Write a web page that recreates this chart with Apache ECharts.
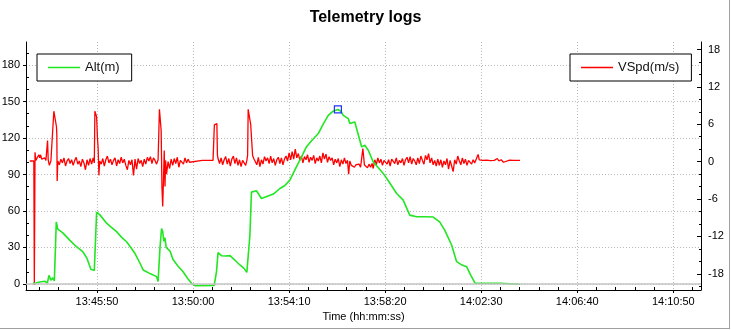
<!DOCTYPE html>
<html><head><meta charset="utf-8">
<script src="https://cdn.jsdelivr.net/npm/echarts@6/dist/echarts.min.js"></script>
<style>html,body{margin:0;padding:0;background:#fff}#c{width:731px;height:330px}</style>
</head><body><div id="c"></div>
<script>
// log clock origin 13:42:44 (seconds since midnight); times below are seconds after it
const T0 = 13 * 3600 + 42 * 60 + 44;

const altTime = [19,27,37,50,57,61,66,71,75,78,80,84,97,115,131,149,160,170,179,185,193,211,222,237,251,263,274,285,298,306,324,341,345,350,354,357,360,363,366,376,384,396,410,422,432,441,491,497,501,510,521,532,540,550,558,568,576,584,588,601,614,628,645,662,675,688,705,719,731,745,762,774,788,800,813,821,827,840,844,849,857,865,875,883,892,905,917,931,948,966,983,1000,1018,1039,1061,1078,1091,1109,1122,1136,1148,1159,1170,1235,1287];
const altValue = [0.5,0.8,1.6,2.2,0.8,7,3,5,2.5,4,51,45,42,36,31,26.5,21,12,11,59,57,50,47,43,38,34.7,30,25,17,11.5,8.5,6,2,30,45.5,43,35,38,30,27,20,15,10,4.5,0.5,-1.4,-1.2,10,25.7,23.2,23,23.3,21,18,15.6,13,9.5,40,75.5,76.6,70.3,72,73.9,78.5,81,85.4,96.3,105,112.7,118,123.7,131,138.7,142,143.5,142,138.7,136,131.9,133,133.2,124,112.7,114.1,110,100.4,96,90.9,83,74.4,68.9,56.6,55.2,55.3,55,51.1,44.3,32,18.3,15.5,14.2,7,0.6,0.5,-0.3];

const vspdTime = [
 11,21.6,22.9,24.7,26.8,31,34.6,37,39,42,46,50,53,56,57.3,59,62,66,70,73.7,78.9,80.5,81.5,82.3,84,
 88,92,96,100,104,108,112,116,120,124,128,132,136,140,144,148,152,156,160,164,168,172,176,
 179,180.5,183,185,187,189,191,193,
 197,201,205,209,213,217,221,225,229,233,237,241,245,249,253,257,261,265,269,273,277,281,285,289,293,297,301,305,309,313,317,321,325,329,333,337,341,345,
 347,348.5,351,353,355,357,359,361,363,364.5,367,371,375,
 379,383,387,391,395,399,403,407,411,415,419,423,427,431,
 460,488,
 490,491.5,493,498,499.5,501,
 505,509,513,517,521,525,529,533,537,541,545,549,553,557,561,565,569,573,576,
 578,579.5,583,586,589,591,594,
 598,602,606,610,614,618,622,626,630,634,638,642,646,650,654,658,662,666,670,674,678,682,686,690,694,698,702,706,710,714,718,722,726,730,734,738,742,746,750,754,758,762,766,770,774,778,782,786,790,794,798,802,806,810,814,818,822,826,830,834,838,
 841,844,848,852,856,860,864,868,872,876,878,880,882,886,890,894,898,902,905,
 909,913,917,921,925,929,933,937,941,945,949,953,957,961,965,969,973,977,981,985,989,993,997,1001,1005,1009,1013,1017,1021,1025,1029,1033,1037,1041,1045,1049,1053,1057,1061,1065,1069,1073,1077,1081,1085,1089,1093,1097,1101,1105,1109,1113,1117,1121,1125,1129,1133,1137,1141,1145,1149,1153,1157,1161,1165,1169,1173,
 1178,1181,1190,1200,1210,1215,1220,1228,1232,1238,1244,1248,1260,1270,1287
];
const vspdValue = [
 0.1,0.1,-19.8,1.5,0.2,0.1,1.1,0.6,1.1,0.4,0.3,0.6,0.2,0.5,3.4,0.3,-0.6,0.1,0.4,8.1,8.1,5.6,4.2,-3.1,0.1,
 -0.5,0.4,-0.2,0.6,-0.7,0.1,0.5,-0.3,0.3,-0.6,0.2,0.7,-0.4,0.1,-0.8,0.4,-0.2,-1.3,0.3,-0.6,0.5,-0.4,0.6,
 -0.2,8.1,8.1,7.2,4.0,2.1,-2.2,0.1,
 -0.4,0.5,-0.7,0.3,0.9,-0.2,0.4,-0.5,0.2,0.6,-0.7,0.3,-0.3,0.7,-0.2,0.4,-0.6,-1.3,0.2,-0.5,0.3,-2.2,0.4,-1.2,0.5,-0.3,0.2,-0.8,0.4,-0.4,0.7,0.1,0.8,-0.3,0.6,0.2,-0.4,0.3,
 0.3,8.4,8.3,5.0,-4.0,-7.2,-3.0,1.8,-4.0,0.2,-2.0,0.0,-1.1,
 0.4,-0.6,0.5,-0.3,0.7,-0.9,0.2,0.5,-0.4,0.6,-0.2,0.4,-0.1,0.2,
 0.2,0.2,
 0.3,5.9,6.0,6.1,1.0,0.5,
 -0.3,0.6,-0.5,0.3,0.8,-0.4,0.5,-0.7,0.4,0.9,-0.3,0.6,-0.6,0.3,-0.8,0.2,0.5,-0.6,0.2,
 1.0,8.4,8.2,6.0,3.0,1.0,0.5,
 0.4,-0.5,0.7,-0.8,0.3,-0.4,0.8,0.1,0.6,-0.3,0.9,-0.2,0.5,-0.6,0.3,0.7,-0.3,0.6,-0.5,0.4,0.9,0.1,1.4,0.3,1.6,0.4,2.0,0.6,1.3,0.2,0.9,-0.2,0.8,0.3,1.1,-0.1,0.7,0.2,1.0,-0.3,0.6,0.1,0.9,-0.2,1.4,0.4,1.2,-0.1,0.8,0.2,0.6,-0.5,0.4,-0.2,0.5,-0.8,0.3,-0.4,0.6,-0.3,0.2,
 -2.0,0.1,-0.6,-0.3,-0.9,-0.5,-0.8,-0.4,-0.9,-0.6,2.1,1.8,-0.5,-0.2,-1.0,-0.4,-0.9,-0.3,-1.1,
 0.3,-0.5,0.6,-0.2,0.4,-0.6,0.2,0.5,-0.4,0.3,-0.7,0.4,0.1,-0.3,0.6,-0.5,0.2,-0.2,0.5,-0.6,0.3,0.7,-0.2,0.8,-0.4,0.5,0.1,-0.5,0.6,-0.3,0.9,0.2,-0.4,1.0,0.3,1.3,-0.2,0.6,-0.5,0.2,-0.7,0.4,-0.6,0.3,-0.9,0.1,-0.5,0.5,-1.2,0.2,-0.7,-1.6,0.3,-0.4,0.9,0.1,-0.5,0.6,-0.3,0.4,-0.6,0.2,0.5,-0.4,0.3,-0.2,0.1,
 1.15,0.3,0.2,0.25,0.15,0.4,0.2,0.5,0.1,0.3,-0.1,0.2,0.25,0.2,0.2
];

const timeTicks = ['13:45:50','13:50:00','13:54:10','13:58:20','14:02:30','14:06:40','14:10:50'];
const altTicks = [0, 30, 60, 90, 120, 150, 180];
const altMinorTicks = [10, 20, 40, 50, 70, 80, 100, 110, 130, 140, 160, 170, 190];
const vspdTicks = [-18, -12, -6, 0, 6, 12, 18];
const vspdMinorTicks = [-20, -16, -14, -10, -8, -4, -2, 2, 4, 8, 10, 14, 16];

const parseT = s => { const p = s.split(':').map(Number); return p[0] * 3600 + p[1] * 60 + p[2]; };
const fmtT = v => { v = Math.round(v); const h = Math.floor(v / 3600), m = Math.floor(v % 3600 / 60), s = v % 60; return [h, m, s].map(n => String(n).padStart(2, '0')).join(':'); };

const xMajor = timeTicks.map(parseT);
const xMin = 49365.2, xMax = 51122.1;
const xMinor = [];
for (let t = xMajor[0] - 150; t <= xMax; t += 50) if (t >= xMin && xMajor.indexOf(t) < 0) xMinor.push(t);

const altData = altTime.map((t, i) => [T0 + t, altValue[i]]);
const vspdData = vspdTime.map((t, i) => [T0 + t, vspdValue[i]]);

const FONT = 'Liberation Sans';
const lbl = { fontSize: 11, color: '#000', fontFamily: FONT };
const grid = { color: '#b8b8b8', type: [1, 2], width: 1 };
// legend icon: a thin horizontal stroke inside a 32x14 box (tiny corner dots fix the box)
const lineIcon = 'path://M0,0h0.01v0.01h-0.01zM0,6.3h32v1.5h-32zM31.99,13.99h0.01v0.01h-0.01z';
const legendBase = { top: 54, backgroundColor: '#fff', borderColor: '#000', borderWidth: 1, borderRadius: 0,
  padding: [6, 12, 6, 11], itemWidth: 32, itemHeight: 14, selectedMode: false,
  textStyle: { fontSize: 13, color: '#111', fontFamily: FONT, lineHeight: 15 } };

const chart = echarts.init(document.getElementById('c'), null, { renderer: 'canvas' });
chart.setOption({
  animation: false,
  backgroundColor: '#fff',
  title: { text: 'Telemetry logs', left: 'center', top: 5, textStyle: { fontSize: 16, fontWeight: 'bold', color: '#000', fontFamily: FONT } },
  grid: { left: 26, right: 30, top: 42, bottom: 40, containLabel: false, outerBoundsMode: 'none' },
  legend: [
    Object.assign({}, legendBase, { left: 37, data: [{ name: 'Alt(m)', icon: lineIcon }] }),
    Object.assign({}, legendBase, { left: 570, data: [{ name: 'VSpd(m/s)', icon: lineIcon }] })
  ],
  xAxis: [
    { type: 'value', min: xMin, max: xMax, position: 'bottom',
      axisLine: { show: true, onZero: false, lineStyle: { color: '#000', width: 1 } },
      axisTick: { show: true, inside: false, length: 3, customValues: xMajor, lineStyle: { color: '#000' } },
      axisLabel: { customValues: xMajor, formatter: fmtT, margin: 6, ...lbl },
      splitLine: { show: true, lineStyle: grid },
      name: 'Time (hh:mm:ss)', nameLocation: 'middle', nameGap: 21,
      nameTextStyle: { fontSize: 11, color: '#000', fontFamily: FONT } },
    { type: 'value', min: xMin, max: xMax, position: 'bottom',
      axisLine: { show: false, onZero: false },
      axisTick: { show: true, inside: true, length: 3, customValues: xMinor, lineStyle: { color: '#000' } },
      axisLabel: { show: false }, splitLine: { show: false } }
  ],
  yAxis: [
    { type: 'value', min: -5, max: 199, position: 'left',
      axisLine: { show: true, onZero: false, lineStyle: { color: '#000', width: 1 } },
      axisTick: { show: true, inside: false, length: 3, customValues: altTicks, lineStyle: { color: '#000' } },
      axisLabel: { customValues: altTicks, margin: 6, ...lbl },
      splitLine: { show: true, lineStyle: grid } },
    { type: 'value', min: -5, max: 199, position: 'left',
      axisLine: { show: false, onZero: false },
      axisTick: { show: true, inside: true, length: 3, customValues: altMinorTicks, lineStyle: { color: '#000' } },
      axisLabel: { show: false }, splitLine: { show: false } },
    { type: 'value', min: -20.6, max: 19.2, position: 'right',
      axisLine: { show: true, onZero: false, lineStyle: { color: '#000', width: 1 } },
      axisTick: { show: true, inside: true, length: 4, customValues: vspdTicks, lineStyle: { color: '#000' } },
      axisLabel: { customValues: vspdTicks, margin: 7, ...lbl },
      splitLine: { show: false } },
    { type: 'value', min: -20.6, max: 19.2, position: 'right',
      axisLine: { show: false, onZero: false },
      axisTick: { show: true, inside: true, length: 2, customValues: vspdMinorTicks, lineStyle: { color: '#000' } },
      axisLabel: { show: false }, splitLine: { show: false } }
  ],
  series: [
    { name: 'VSpd(m/s)', type: 'line', xAxisIndex: 0, yAxisIndex: 2, data: vspdData, symbol: 'none', z: 2,
      lineStyle: { color: '#ff0000', width: 1.3 }, itemStyle: { color: '#ff0000' } },
    { name: 'Alt(m)', type: 'line', xAxisIndex: 0, yAxisIndex: 0, data: altData, symbol: 'none', z: 3,
      lineStyle: { color: '#22e622', width: 1.6 }, itemStyle: { color: '#22e622' },
      markLine: { silent: true, symbol: ['none', 'none'], label: { show: false }, animation: false,
        lineStyle: { color: '#c4c4c4', type: 'solid', width: 1.5 }, data: [{ yAxis: 0 }] },
      markPoint: { symbol: 'rect', symbolSize: 7, label: { show: false }, silent: true,
        itemStyle: { color: 'rgba(0,0,0,0)', borderColor: '#2233ff', borderWidth: 1.2 },
        data: [{ type: 'max' }] } }
  ],
  graphic: [
    { type: 'line', silent: true, shape: { x1: 729.5, y1: 0, x2: 729.5, y2: 329 }, style: { stroke: '#a0a0a0', lineWidth: 1 } },
    { type: 'line', silent: true, shape: { x1: 0, y1: 328.5, x2: 730, y2: 328.5 }, style: { stroke: '#a0a0a0', lineWidth: 1 } }
  ]
});
</script>
</body></html>
